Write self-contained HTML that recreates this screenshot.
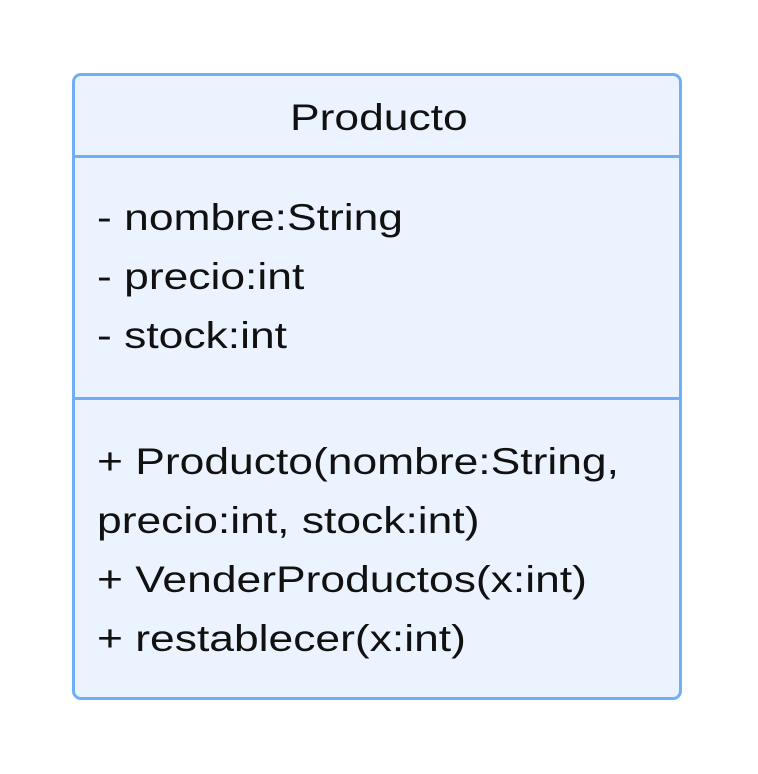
<!DOCTYPE html>
<html><head><meta charset="utf-8"><style>
html,body{margin:0;padding:0;background:#fff;width:758px;height:774px;overflow:hidden}
.box{position:absolute;left:72px;top:73px;width:604px;height:621px;border:3px solid #70aef8;border-radius:9px;background:#ebf4fe}
.hr{position:absolute;left:0;right:0;height:3px;background:#70aef8}
.t{position:absolute;font-family:"Liberation Sans",sans-serif;font-size:37px;color:#111;white-space:nowrap;line-height:1;transform:scaleX(1.2);transform-origin:0 0}
</style></head><body>
<div class="box">
<div class="hr" style="top:79px"></div>
<div class="hr" style="top:321px"></div>
</div>
<div class="t" style="left:290px;top:99px">Producto</div>
<div class="t" style="left:97px;top:199px">- nombre:String</div>
<div class="t" style="left:97px;top:258px">- precio:int</div>
<div class="t" style="left:97px;top:317px">- stock:int</div>
<div class="t" style="left:97px;top:443px">+ Producto(nombre:String,</div>
<div class="t" style="left:97px;top:502px">precio:int, stock:int)</div>
<div class="t" style="left:97px;top:561px">+ VenderProductos(x:int)</div>
<div class="t" style="left:97px;top:620px">+ restablecer(x:int)</div>
</body></html>
